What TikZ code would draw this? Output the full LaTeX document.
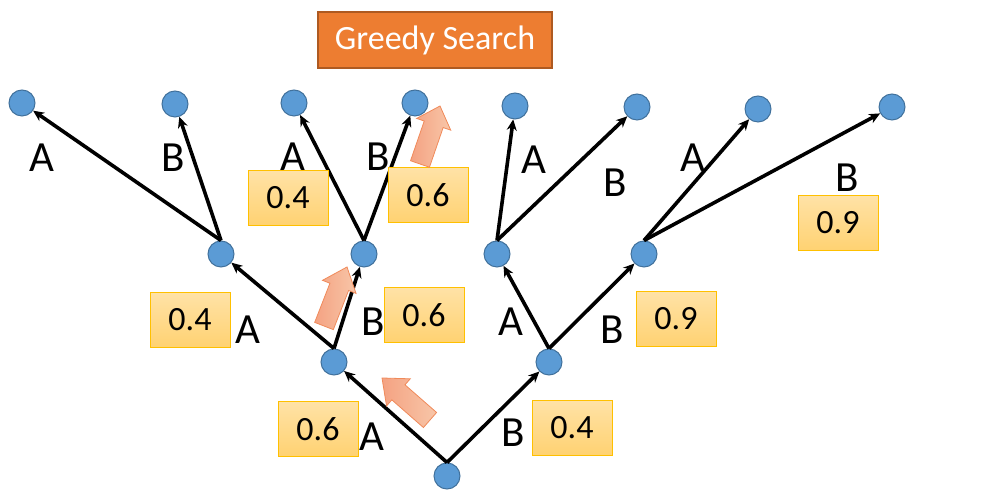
\documentclass[tikz,border=0pt]{standalone}
\usepackage{fontspec}
\setmainfont{Carlito}
\usetikzlibrary{arrows.meta,calc}
\definecolor{nodefill}{HTML}{5B9BD5}
\definecolor{nodeline}{HTML}{41719C}
\definecolor{boxtop}{HTML}{FFE2A6}
\definecolor{boxbot}{HTML}{FFD272}
\definecolor{boxline}{HTML}{FFC000}
\definecolor{titlefill}{HTML}{ED7D31}
\definecolor{titleline}{HTML}{AE5A21}
\definecolor{arrA}{HTML}{F4A282}
\definecolor{arrB}{HTML}{F8C6A8}
\definecolor{arrline}{HTML}{F08A5A}
\newcommand\blockarr[2]{%
  \shadedraw[barrow] ($(#1)!10pt!-90:(#2)$) -- ($(#1)!42pt!(#2)!10pt!-90:(#2)$) -- ($(#1)!42pt!(#2)!18pt!-90:(#2)$) -- (#2) -- ($(#1)!42pt!(#2)!18pt!90:(#2)$) -- ($(#1)!42pt!(#2)!10pt!90:(#2)$) -- ($(#1)!10pt!90:(#2)$) -- cycle;}
\begin{document}
\begin{tikzpicture}[x=1pt,y=1pt,
  state/.style={circle, fill=nodefill, draw=nodeline, line width=1pt, minimum size=26pt, inner sep=0pt},
  edge/.style={line width=3.6pt, -{Stealth[length=11pt,width=10pt]}},
  lbl/.style={font=\fontsize{43}{43}\selectfont, inner sep=0pt},
  prob/.style={draw=boxline, line width=1pt, top color=boxtop, bottom color=boxbot, minimum width=80pt, minimum height=55pt, font=\fontsize{34}{34}\selectfont, inner sep=0pt},
  titlebox/.style={fill=titlefill, draw=titleline, line width=2pt, minimum width=234pt, minimum height=56pt, text=white, font=\fontsize{34}{34}\selectfont, inner sep=0pt},
  barrow/.style={left color=arrA, right color=arrB, draw=arrline, line width=0.8pt, line join=miter}
]
\useasboundingbox (0,0) rectangle (998,500);
% nodes
\node[state] (r) at (447,24) {};
\node[state] (l1) at (334,138) {};
\node[state] (r1) at (549,138) {};
\node[state] (a2) at (221,246) {};
\node[state] (b2) at (364,246) {};
\node[state] (c2) at (497,246) {};
\node[state] (d2) at (644,246) {};
\node[state] (t1) at (22,397) {};
\node[state] (t2) at (175,396) {};
\node[state] (t3) at (294,397) {};
\node[state] (t4) at (415,397) {};
\node[state] (t5) at (515,394) {};
\node[state] (t6) at (637,393) {};
\node[state] (t7) at (758,391) {};
\node[state] (t8) at (892,393) {};
% edges
\draw[edge] (r.north) -- (l1);
\draw[edge] (r.north) -- (r1);
\draw[edge] (l1.north) -- (a2);
\draw[edge] (l1.north) -- (b2);
\draw[edge] (r1.north) -- (c2);
\draw[edge] (r1.north) -- (d2);
\draw[edge] (a2.north) -- (t1);
\draw[edge] (a2.north) -- (t2);
\draw[edge] (b2.north) -- (t3);
\draw[edge] (b2.north) -- (t4);
\draw[edge] (c2.north) -- (t5);
\draw[edge] (c2.north) -- (t6);
\draw[edge] (d2.north) -- (t7);
\draw[edge] (d2.north) -- (t8);
% edge labels
\node[lbl] (la1) at (42,342) {A};
\node[lbl] (lb1) at (173,342) {B};
\node[lbl] (la2) at (293,343) {A};
\node[lbl] (lb2) at (378,343) {B};
\node[lbl] (la3) at (534,340) {A};
\node[lbl] (lb3) at (615,317) {B};
\node[lbl] (la4) at (693,342) {A};
\node[lbl] (lb4) at (847,322) {B};
\node[lbl] (la5) at (248,170) {A};
\node[lbl] (lb5) at (373,178) {B};
\node[lbl] (la6) at (511,178) {A};
\node[lbl] (lb6) at (612,170) {B};
\node[lbl] (la7) at (372,63) {A};
\node[lbl] (lb7) at (513,67) {B};
% probability boxes
\node[prob] (p1) at (288,302) {0.4};
\node[prob] (p2) at (428,305) {0.6};
\node[prob] (p3) at (838,277) {0.9};
\node[prob] (p4) at (190,180) {0.4};
\node[prob] (p5) at (424,185) {0.6};
\node[prob] (p6) at (676,181) {0.9};
\node[prob] (p7) at (318,71) {0.6};
\node[prob] (p8) at (572,72) {0.4};
% title
\node[titlebox] (title) at (435,460) {Greedy Search};
% block arrows
\coordinate (s1) at (430,80);
\coordinate (e1) at (382,122);
\coordinate (s2) at (324,174);
\coordinate (e2) at (347,233);
\coordinate (s3) at (420,336);
\coordinate (e3) at (440,394);
\blockarr{s1}{e1}
\blockarr{s2}{e2}
\blockarr{s3}{e3}
\end{tikzpicture}
\end{document}
